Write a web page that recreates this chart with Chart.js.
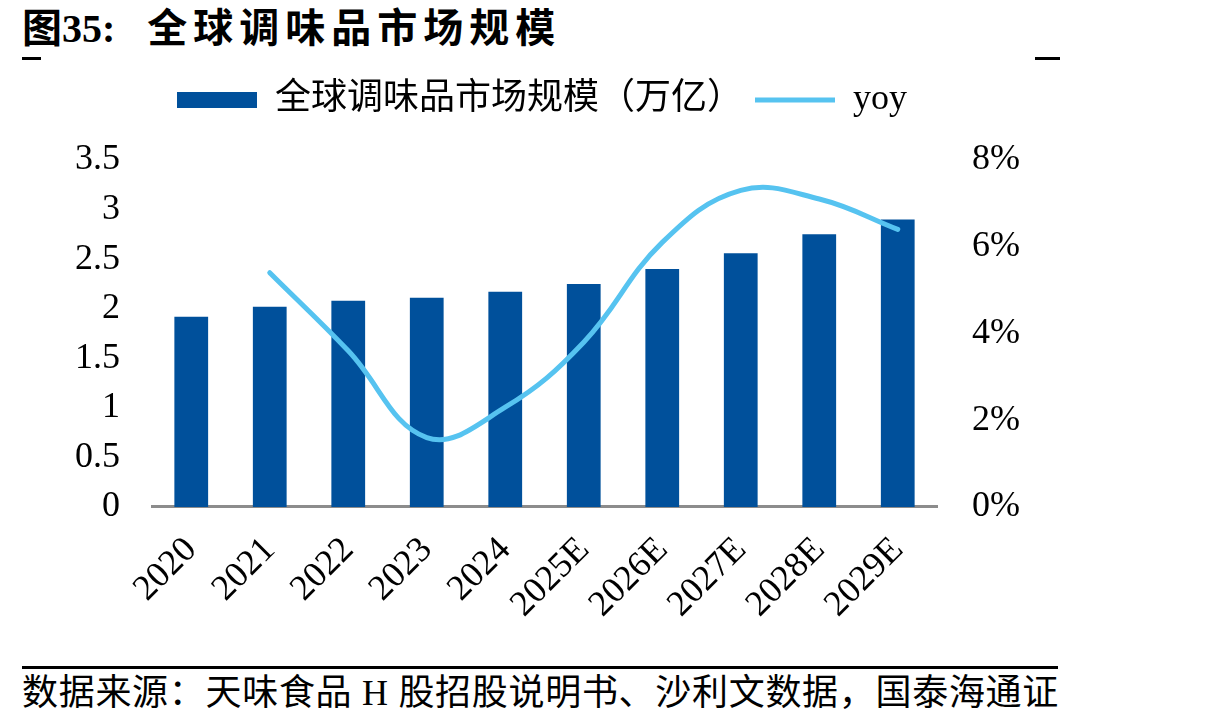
<!DOCTYPE html>
<html>
<head>
<meta charset="utf-8">
<script src="https://cdn.jsdelivr.net/npm/chart.js@4"></script>
<style>
  body { margin: 0; width: 1213px; height: 722px; overflow: hidden; background: #fff; position: relative;
         font-family: 'Liberation Serif', 'Noto Sans CJK SC', serif; color: #000; }
  #title { position: absolute; left: 22px; top: -4px; font-size: 40px; font-weight: bold; white-space: nowrap; }
  #title .cn { letter-spacing: 6px; margin-left: 32px; }
  .dash { position: absolute; top: 57px; height: 3px; background: #000; }
  #wrap { position: absolute; left: 0; top: 70px; width: 1084px; height: 578px; }
  #rule { position: absolute; left: 22px; top: 666px; width: 1036px; height: 3px; background: #000; }
  #source { position: absolute; left: 22px; top: 668px; font-size: 36px; line-height: 50px; white-space: nowrap; letter-spacing: 0.7px; }
</style>
</head>
<body>
<div id="title">图35:<span class="cn">全球调味品市场规模</span></div>
<div class="dash" style="left:22px;width:19px"></div>
<div class="dash" style="left:1035px;width:25px"></div>
<div id="wrap"><canvas id="myChart"></canvas></div>
<div id="rule"></div>
<div id="source">数据来源：天味食品 H 股招股说明书、沙利文数据，国泰海通证<br>券研究所</div>
<script>
"use strict";

const years = ["2020", "2021", "2022", "2023", "2024", "2025E", "2026E", "2027E", "2028E", "2029E"]
const marketSize = [1.92, 2.02, 2.08, 2.11, 2.17, 2.25, 2.40, 2.56, 2.75, 2.90]
const yoy = [null, 5.4, 3.6, 1.6, 2.3, 3.8, 6.1, 7.3, 7.1, 6.4]
const leftTicks = [0, 0.5, 1, 1.5, 2, 2.5, 3, 3.5]
const rightTicks = [0, 2, 4, 6, 8]

const serif = "'Liberation Serif', 'Noto Sans CJK SC', serif"

// push the plot down a bit below the legend
const legendGap = {
    id: 'legendGap',
    beforeInit(chart) {
        const fit = chart.legend.fit
        chart.legend.fit = function () {
            fit.bind(chart.legend)()
            this.height += 32
        }
    }
}

new Chart("myChart", {
    data: {
        labels: years,
        datasets: [{
            type: 'bar',
            label: '全球调味品市场规模（万亿）',
            data: marketSize,
            backgroundColor: '#00509b',
            borderWidth: 0,
            pointStyle: 'rect',
            barPercentage: 0.43,
            categoryPercentage: 1,
            yAxisID: 'y',
            order: 1
        }, {
            type: 'line',
            label: 'yoy',
            data: yoy,
            borderColor: '#56c3f0',
            backgroundColor: '#56c3f0',
            borderWidth: 5,
            borderCapStyle: 'round',
            pointStyle: 'line',
            tension: 0.4,
            pointRadius: 0,
            yAxisID: 'y1',
            order: 0
        }]
    },
    options: {
        responsive: true,
        maintainAspectRatio: false,
        animation: false,
        plugins: {
            tooltip: { enabled: false },
            legend: {
                labels: {
                    usePointStyle: true,
                    pointStyleWidth: 80,
                    boxHeight: 16,
                    padding: 12,
                    color: '#000',
                    font: { family: serif, size: 36 },
                    sort: (a, b) => a.datasetIndex - b.datasetIndex
                }
            }
        },
        scales: {
            x: {
                grid: { display: false, drawTicks: false },
                border: { color: '#8c8c8c', width: 3 },
                ticks: {
                    color: '#000', maxRotation: 45, minRotation: 45, padding: 22,
                    font: { family: serif, size: 36 }
                }
            },
            y: {
                position: 'left',
                min: 0, max: 3.5,
                grid: { display: false, drawTicks: false },
                border: { display: false },
                afterBuildTicks: s => { s.ticks = leftTicks.map(v => ({ value: v })) },
                afterFit: s => { s.width = 152 },
                ticks: {
                    color: '#000', padding: 32,
                    font: { family: serif, size: 36 },
                    callback: v => String(v)
                }
            },
            y1: {
                position: 'right',
                min: 0, max: 8,
                grid: { display: false, drawTicks: false },
                border: { display: false },
                afterBuildTicks: s => { s.ticks = rightTicks.map(v => ({ value: v })) },
                afterFit: s => { s.width = 147 },
                ticks: {
                    color: '#000', padding: 35,
                    font: { family: serif, size: 36 },
                    callback: v => v + '%'
                }
            }
        }
    },
    plugins: [legendGap]
})
</script>
</body>
</html>
